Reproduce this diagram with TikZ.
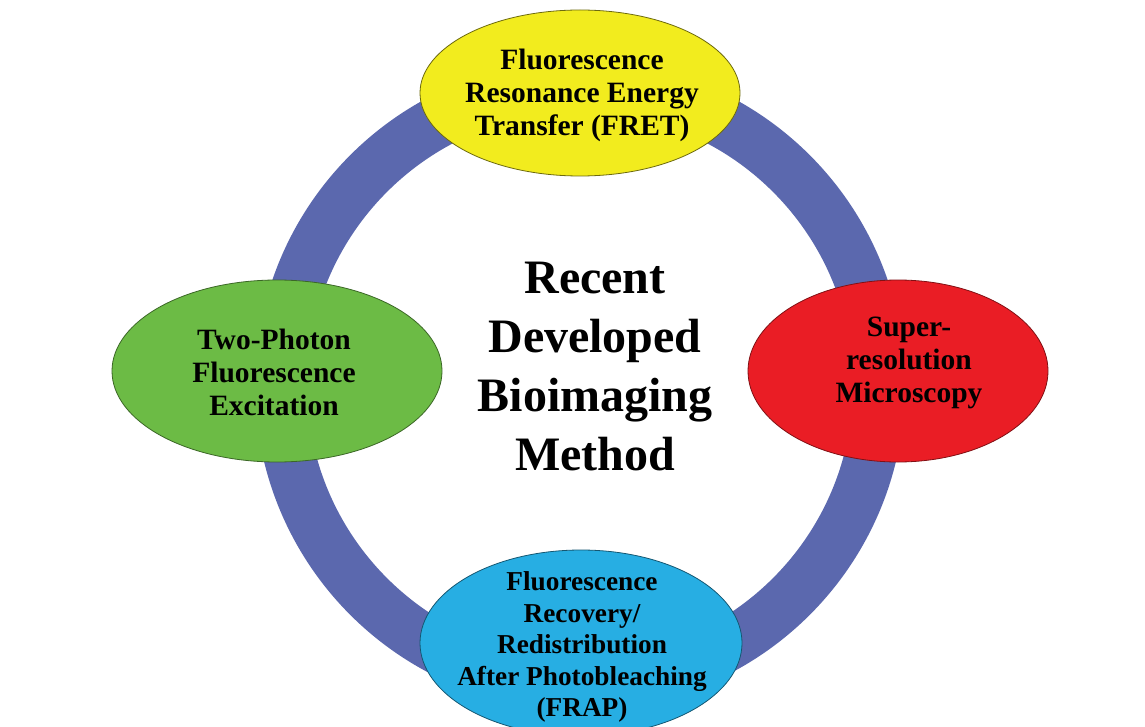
\documentclass[tikz,border=0pt]{standalone}
\usepackage{fontspec}
\setmainfont{Liberation Serif}
\usetikzlibrary{shapes.geometric}
\definecolor{ringblue}{HTML}{5B68AE}
\definecolor{fretyellow}{HTML}{F2EC1E}
\definecolor{tpgreen}{HTML}{6CBB45}
\definecolor{srred}{HTML}{EA1D25}
\definecolor{frapblue}{HTML}{27AEE3}
\tikzset{
  ring/.style={draw=ringblue, line width=52},
  blob/.style={ellipse, inner sep=0pt, line width=0.8pt},
  lbl/.style={align=center, inner sep=0pt, font=\bfseries\fontsize{29.5}{33}\selectfont},
  smalllbl/.style={align=center, inner sep=0pt, font=\bfseries\fontsize{27.3}{31.5}\selectfont},
  title/.style={align=center, inner sep=0pt, font=\bfseries\fontsize{48}{59}\selectfont}
}
\begin{document}
\begin{tikzpicture}[x=1pt, y=-1pt]
  \useasboundingbox (0,0) rectangle (1145,727);
  \clip (0,0) rectangle (1145,727);
  \fill[white] (0,0) rectangle (1145,727);

  % central cycle
  \coordinate (hub) at (580,385);
  \draw[ring] (hub) circle (299);

  % the four methods around the cycle
  \node[blob, fill=fretyellow, draw=fretyellow!45!black,
        minimum width=320, minimum height=166] (fret) at (580,93) {};
  \node[blob, fill=tpgreen, draw=tpgreen!55!black,
        minimum width=330, minimum height=182] (twop) at (277,371) {};
  \node[blob, fill=srred, draw=srred!55!black,
        minimum width=300, minimum height=182] (sres) at (898,371) {};
  \node[blob, fill=frapblue, draw=frapblue!50!black,
        minimum width=322, minimum height=186] (frap) at (581,643) {};

  \node[lbl] (fretT) at (582,95) {Fluorescence\\Resonance Energy\\Transfer (FRET)};
  \node[lbl] (twopT) at (274,372) {Two-Photon\\Fluorescence\\Excitation};
  \node[lbl] (sresT) at (909,363) {Super-\\resolution\\Microscopy};
  \node[smalllbl] (frapT) at (582,647) {Fluorescence\\Recovery/\\Redistribution\\After Photobleaching\\(FRAP)};

  % centre title
  \node[title] (centre) at (595,367) {Recent\\Developed\\Bioimaging\\Method};
\end{tikzpicture}
\end{document}
